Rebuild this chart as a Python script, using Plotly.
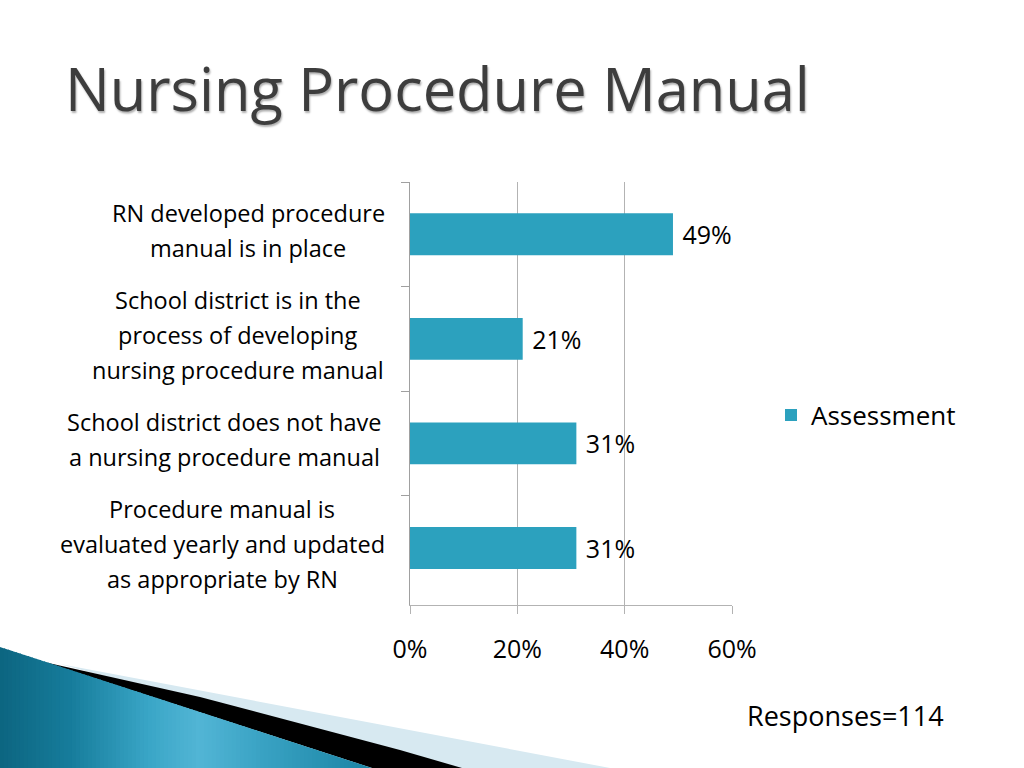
import plotly.graph_objects as go

categories = [
    "RN developed procedure<br>manual is in place",
    "School district is in the<br>process of developing<br>nursing procedure manual",
    "School district does not have<br>a nursing procedure manual",
    "Procedure manual is<br>evaluated yearly and updated<br>as appropriate by RN",
]
values = [0.49, 0.21, 0.31, 0.31]
value_labels = ["49%", "21%", "31%", "31%"]
series_name = "Assessment"
x_ticks = [0, 0.2, 0.4, 0.6]
x_tick_labels = ["0%", "20%", "40%", "60%"]
title_text = "Nursing Procedure Manual"
note_text = "Responses=114"

W, H = 1024, 768
FONT = "Open Sans"
BAR = "#2ca1be"
GRID = "#b3b3b3"
LABEL_CENTERS = [248, 238, 224, 222]  # horizontal centre (px) of each label block

def px(x, y):
    return x / W, 1 - y / H

def path(points):
    pts = [px(x, y) for x, y in points]
    return "M " + " L ".join(f"{a:.5f},{b:.5f}" for a, b in pts) + " Z"

def hex2rgb(h):
    h = h.lstrip("#")
    return tuple(int(h[i:i + 2], 16) for i in (0, 2, 4))

def lerp_color(stops, x):
    for (x0, c0), (x1, c1) in zip(stops, stops[1:]):
        if x0 <= x <= x1:
            t = (x - x0) / (x1 - x0)
            a, b = hex2rgb(c0), hex2rgb(c1)
            return "rgb(%d,%d,%d)" % tuple(round(a[i] + (b[i] - a[i]) * t) for i in range(3))
    return stops[-1][1]

fig = go.Figure()
fig.add_trace(go.Bar(
    y=categories, x=values, orientation="h", name=series_name,
    marker=dict(color=BAR, line=dict(width=0)),
    text=value_labels, texttemplate=" %{text}", textposition="outside", cliponaxis=False,
    textfont=dict(family=FONT, size=25, color="#000000"),
    width=0.4, showlegend=True, hoverinfo="skip",
))

# category labels: centered multi-line blocks
LINE = 35
for c, cx in zip(categories, LABEL_CENTERS):
    lines = c.split("<br>")
    n = len(lines)
    for i, ln in enumerate(lines):
        fig.add_annotation(
            x=cx / W, xref="paper", y=c, yref="y",
            text=ln, showarrow=False, xanchor="center", yanchor="middle",
            yshift=4 + (n - 1) / 2 * LINE - i * LINE,
            font=dict(family=FONT, size=23.5, color="#000000"),
        )

fig.update_layout(
    width=W, height=H,
    margin=dict(l=0, r=0, t=0, b=0),
    paper_bgcolor="white", plot_bgcolor="white",
    title=dict(
        text=title_text, x=65 / W, xanchor="left", y=1 - 90 / H, yanchor="middle",
        xref="paper", yref="paper",
        font=dict(family=FONT, size=59.5, color="#3d3d3d", shadow="1px 2px 2px #b0b0b0"),
    ),
    xaxis=dict(
        domain=[410 / W, 732 / W], range=[0, 0.6],
        tickvals=x_ticks, ticktext=x_tick_labels,
        showgrid=True, gridcolor=GRID, gridwidth=1,
        ticks="outside", ticklen=8, tickcolor=GRID,
        showline=True, linecolor=GRID, linewidth=1, zeroline=False,
        ticklabelstandoff=14,
        tickfont=dict(family=FONT, size=25, color="#000000"),
        automargin=False, fixedrange=True,
    ),
    yaxis=dict(
        domain=[1 - 605 / H, 1 - 182 / H],
        autorange="reversed", showticklabels=False,
        ticks="outside", tickson="boundaries", ticklen=8, tickcolor="#a0a0a0",
        showline=True, linecolor="#a0a0a0", linewidth=1, showgrid=False,
        automargin=False, fixedrange=True,
    ),
    legend=dict(
        x=771 / W, y=1 - 415 / H, xanchor="left", yanchor="middle",
        font=dict(family=FONT, size=26, color="#000000"),
        itemwidth=30, bgcolor="rgba(0,0,0,0)",
    ),
)

fig.add_annotation(
    x=745 / W, y=1 - 715 / H, xref="paper", yref="paper", xanchor="left", yanchor="middle",
    text=note_text, showarrow=False, font=dict(family=FONT, size=27, color="#000000"),
)

# decorative swoosh bottom-left
fig.add_shape(type="path", path=path([(60, 664), (610, 768), (440, 768)]),
              xref="paper", yref="paper", fillcolor="#d7e9f1", line=dict(width=0), layer="above")
fig.add_shape(type="path", path=path([(44, 662), (200, 697), (400, 750), (462, 768), (372, 768)]),
              xref="paper", yref="paper", fillcolor="#000000", line=dict(width=0), layer="above")

stops = [(0, "#0c6580"), (70, "#167c9b"), (150, "#3aa6c7"), (200, "#52b5d5"),
         (260, "#3aa3c4"), (372, "#1a84a4")]
x0, x1, y0, y1 = 0, 372, 647, 768
slope = (y1 - y0) / (x1 - x0)
N = 93
for k in range(N):
    a = x0 + (x1 - x0) * k / N
    b = min(x0 + (x1 - x0) * (k + 1) / N + 1.0, x1)
    col = lerp_color(stops, (a + b) / 2)
    fig.add_shape(type="path",
                  path=path([(a, y0 + slope * a), (b, y0 + slope * b), (b, 768), (a, 768)]),
                  xref="paper", yref="paper", fillcolor=col, line=dict(width=0), layer="above")

fig.write_html("out.html", config={"displayModeBar": False, "staticPlot": True},
               post_script="document.body.style.margin='0px';")
